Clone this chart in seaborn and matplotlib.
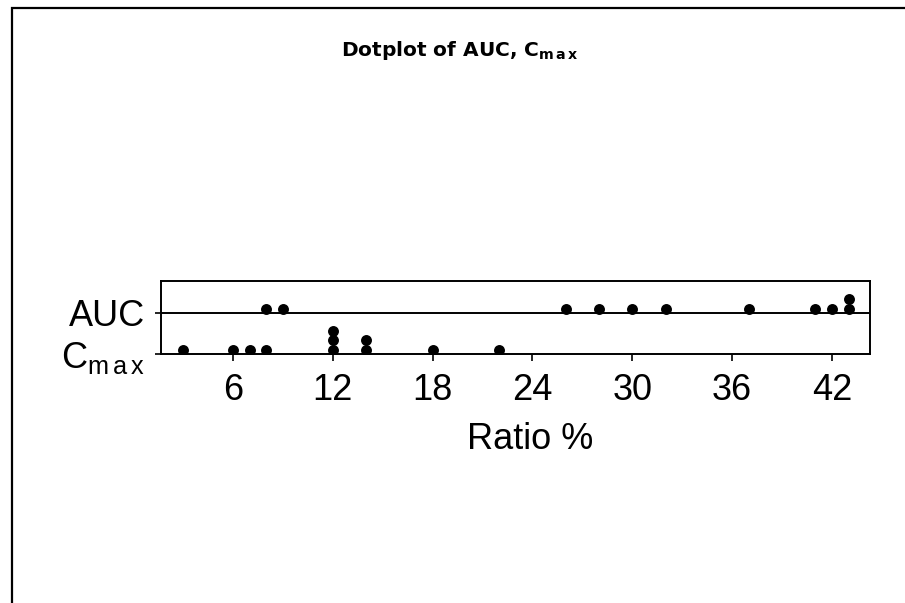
import matplotlib
matplotlib.use("Agg")
import matplotlib.pyplot as plt
from matplotlib import font_manager
from matplotlib.patches import Rectangle
import seaborn as sns
import pandas as pd
import numpy as np

# ---- data ----
auc_values = [8, 9, 26, 28, 30, 32, 37, 41, 42, 43, 43]
cmax_values = [3, 6, 7, 8, 12, 12, 12, 14, 14, 18, 22]
x_ticks = [6, 12, 18, 24, 30, 36, 42]
group_labels = ["AUC", r"$\mathrm{C}_{\mathrm{m\,a\,x}}$"]
title_text = r"Dotplot of AUC, C$_{\mathbf{m\,a\,x}}$"
x_label = "Ratio %"

sns.set_style("white")

main_font = "Liberation Sans"
plt.rcParams["font.family"] = [main_font, "DejaVu Sans"]
plt.rcParams["mathtext.fontset"] = "custom"
plt.rcParams["mathtext.rm"] = main_font
plt.rcParams["mathtext.bf"] = "DejaVu Sans:bold"

# build stacked dot positions (dotplot stacking)
rows = []
for gi, vals in enumerate([cmax_values, auc_values]):
    counts = {}
    for v in vals:
        k = counts.get(v, 0)
        counts[v] = k + 1
        rows.append({"value": v, "group": gi, "stack": k})
df = pd.DataFrame(rows)
base = np.where(df["group"] == 1, 1.0, 0.0)
df["y"] = base + 4.5 / 41 + df["stack"] * (9.5 / 41)

fig = plt.figure(figsize=(9.05, 6.03), dpi=100)
ax = fig.add_axes([161 / 905, 1 - 354 / 603, 709 / 905, 73 / 603])

sns.scatterplot(data=df, x="value", y="y", ax=ax, color="black", s=62,
                linewidth=0, legend=False, zorder=3)

ax.set_xlim(1.67, 44.29)
ax.set_ylim(0, 73 / 41)
ax.axhline(1.0, color="black", lw=1.4, zorder=2)

ax.set_xticks(x_ticks)
ax.set_xticklabels([str(t) for t in x_ticks])
ax.set_yticks([1.0, 0.0])
ax.set_yticklabels([group_labels[0], group_labels[1]])
ax.tick_params(axis="x", direction="out", length=5, width=1.2, pad=8.5,
               labelsize=26, colors="black", bottom=True)
ax.tick_params(axis="y", direction="out", length=4.5, width=1.2, pad=7,
               labelsize=26, colors="black", left=True)

ax.set_xlabel(x_label, fontsize=26, color="black")
ax.xaxis.set_label_coords(0.52, -0.93)
ax.xaxis.label.set_va("top")
ax.set_ylabel("")

for s in ax.spines.values():
    s.set_visible(True)
    s.set_color("black")
    s.set_linewidth(1.4)

fig.text(460 / 905, 1 - 56 / 603, title_text, ha="center", va="baseline",
         fontsize=14.5, fontweight="bold", family="DejaVu Sans", color="black")

# outer frame (cut off at right and bottom like the reference)
fig.add_artist(Rectangle((11.5 / 905, -0.2), 1.2, 1.2 - 8 / 603,
                         transform=fig.transFigure, fill=False,
                         edgecolor="black", lw=1.6, clip_on=False))

fig.savefig("out.png", dpi=100)
